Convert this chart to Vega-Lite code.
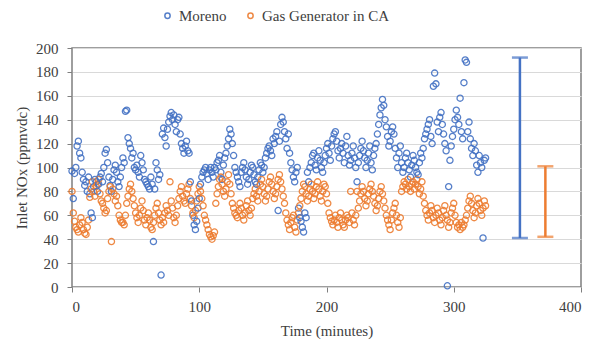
{
"$schema":"https://vega.github.io/schema/vega-lite/v6.json",
"width":509,"height":239,
"autosize":{"type":"none"},
"padding":{"left":72,"top":48,"right":12,"bottom":55},
"background":"white",
"config":{"view":{"stroke":"#7f7f7f","strokeWidth":1.5},"font":"Liberation Serif","axis":{"titleFontWeight":"normal","labelOverlap":false},
 "axisY":{"grid":true,"gridColor":"#d9d9d9","tickSize":5,"tickColor":"#7f7f7f","domain":false,"labelFontSize":15,"labelColor":"#404040","labelPadding":9,"titleFontSize":15,"titleColor":"#404040","titlePadding":6,"labelOverlap":false},
 "axisX":{"grid":false,"tickSize":5,"tickColor":"#7f7f7f","domain":false,"labelFontSize":15,"labelColor":"#404040","labelPadding":7,"titleFontSize":15,"titleColor":"#404040","titlePadding":9}},
"resolve":{"scale":{"color":"independent"}},
"datasets":{
"pts":[
{"t":0,"M":97,"G":80},{"t":1,"M":74,"G":62},{"t":2,"M":95,"G":55},{"t":3,"M":100,"G":50},{"t":4,"M":118,"G":48},{"t":5,"M":122,"G":46},{"t":6,"M":112,"G":52},{"t":7,"M":108,"G":58},{"t":8,"M":96,"G":54},{"t":9,"M":90,"G":48},
{"t":10,"M":85,"G":45},{"t":11,"M":88,"G":44},{"t":12,"M":80,"G":50},{"t":13,"M":92,"G":56},{"t":14,"M":78,"G":75},{"t":15,"M":62,"G":82},{"t":16,"M":58,"G":88},{"t":17,"M":84,"G":80},{"t":18,"M":90,"G":76},{"t":19,"M":88,"G":84},
{"t":20,"M":80,"G":86},{"t":21,"M":86,"G":90},{"t":22,"M":92,"G":78},{"t":23,"M":95,"G":72},{"t":24,"M":88,"G":70},{"t":25,"M":100,"G":66},{"t":26,"M":112,"G":62},{"t":27,"M":115,"G":64},{"t":28,"M":104,"G":74},{"t":29,"M":92,"G":80},
{"t":30,"M":85,"G":84},{"t":31,"M":80,"G":38},{"t":32,"M":90,"G":82},{"t":33,"M":98,"G":78},{"t":34,"M":102,"G":72},{"t":35,"M":96,"G":76},{"t":36,"M":88,"G":68},{"t":37,"M":84,"G":60},{"t":38,"M":92,"G":56},{"t":39,"M":100,"G":54},
{"t":40,"M":108,"G":54},{"t":41,"M":104,"G":52},{"t":42,"M":147,"G":60},{"t":43,"M":148,"G":70},{"t":44,"M":125,"G":76},{"t":45,"M":120,"G":82},{"t":46,"M":116,"G":86},{"t":47,"M":108,"G":80},{"t":48,"M":112,"G":74},{"t":49,"M":100,"G":68},
{"t":50,"M":98,"G":62},{"t":51,"M":102,"G":58},{"t":52,"M":96,"G":54},{"t":53,"M":92,"G":60},{"t":54,"M":110,"G":66},{"t":55,"M":104,"G":72},{"t":56,"M":98,"G":64},{"t":57,"M":90,"G":56},{"t":58,"M":88,"G":52},{"t":59,"M":86,"G":58},
{"t":60,"M":84,"G":62},{"t":61,"M":82,"G":56},{"t":62,"M":92,"G":50},{"t":63,"M":86,"G":48},{"t":64,"M":38,"G":54},{"t":65,"M":82,"G":60},{"t":66,"M":104,"G":66},{"t":67,"M":98,"G":70},{"t":68,"M":90,"G":62},{"t":69,"M":94,"G":56},
{"t":70,"M":10,"G":52},{"t":71,"M":128,"G":58},{"t":72,"M":133,"G":54},{"t":73,"M":125,"G":62},{"t":74,"M":118,"G":68},{"t":75,"M":132,"G":64},{"t":76,"M":138,"G":60},{"t":77,"M":143,"G":88},{"t":78,"M":146,"G":72},{"t":79,"M":140,"G":66},
{"t":80,"M":144,"G":58},{"t":81,"M":136,"G":54},{"t":82,"M":130,"G":60},{"t":83,"M":140,"G":68},{"t":84,"M":142,"G":74},{"t":85,"M":128,"G":80},{"t":86,"M":120,"G":84},{"t":87,"M":116,"G":76},{"t":88,"M":112,"G":72},{"t":89,"M":118,"G":70},
{"t":90,"M":122,"G":78},{"t":91,"M":114,"G":82},{"t":92,"M":112,"G":86},{"t":93,"M":88,"G":74},{"t":94,"M":72,"G":68},{"t":95,"M":60,"G":62},{"t":96,"M":52,"G":58},{"t":97,"M":48,"G":64},{"t":98,"M":55,"G":72},{"t":99,"M":66,"G":78},
{"t":100,"M":74,"G":84},{"t":101,"M":86,"G":80},{"t":102,"M":92,"G":74},{"t":103,"M":96,"G":68},{"t":104,"M":98,"G":60},{"t":105,"M":100,"G":56},{"t":106,"M":95,"G":52},{"t":107,"M":90,"G":48},{"t":108,"M":98,"G":44},{"t":109,"M":100,"G":42},
{"t":110,"M":96,"G":40},{"t":111,"M":92,"G":43},{"t":112,"M":100,"G":46},{"t":113,"M":98,"G":70},{"t":114,"M":104,"G":78},{"t":115,"M":106,"G":84},{"t":116,"M":110,"G":90},{"t":117,"M":96,"G":92},{"t":118,"M":90,"G":86},{"t":119,"M":102,"G":80},
{"t":120,"M":108,"G":76},{"t":121,"M":112,"G":82},{"t":122,"M":118,"G":88},{"t":123,"M":124,"G":94},{"t":124,"M":132,"G":86},{"t":125,"M":128,"G":78},{"t":126,"M":120,"G":70},{"t":127,"M":110,"G":66},{"t":128,"M":100,"G":62},{"t":129,"M":96,"G":60},
{"t":130,"M":92,"G":58},{"t":131,"M":88,"G":64},{"t":132,"M":84,"G":70},{"t":133,"M":96,"G":66},{"t":134,"M":100,"G":60},{"t":135,"M":104,"G":56},{"t":136,"M":98,"G":62},{"t":137,"M":92,"G":68},{"t":138,"M":86,"G":72},{"t":139,"M":90,"G":64},
{"t":140,"M":96,"G":60},{"t":141,"M":102,"G":66},{"t":142,"M":100,"G":74},{"t":143,"M":94,"G":78},{"t":144,"M":88,"G":82},{"t":145,"M":86,"G":76},{"t":146,"M":92,"G":72},{"t":147,"M":98,"G":80},{"t":148,"M":104,"G":86},{"t":149,"M":102,"G":90},
{"t":150,"M":96,"G":84},{"t":151,"M":100,"G":78},{"t":152,"M":108,"G":72},{"t":153,"M":112,"G":76},{"t":154,"M":116,"G":82},{"t":155,"M":118,"G":88},{"t":156,"M":114,"G":92},{"t":157,"M":110,"G":86},{"t":158,"M":124,"G":80},{"t":159,"M":120,"G":74},
{"t":160,"M":126,"G":78},{"t":161,"M":130,"G":84},{"t":162,"M":64,"G":90},{"t":163,"M":122,"G":94},{"t":164,"M":136,"G":88},{"t":165,"M":142,"G":82},{"t":166,"M":138,"G":76},{"t":167,"M":130,"G":70},{"t":168,"M":124,"G":62},{"t":169,"M":116,"G":56},
{"t":170,"M":128,"G":52},{"t":171,"M":112,"G":48},{"t":172,"M":104,"G":54},{"t":173,"M":98,"G":58},{"t":174,"M":92,"G":60},{"t":175,"M":88,"G":50},{"t":176,"M":96,"G":46},{"t":177,"M":100,"G":56},{"t":178,"M":66,"G":62},{"t":179,"M":58,"G":68},
{"t":180,"M":55,"G":74},{"t":181,"M":50,"G":80},{"t":182,"M":46,"G":86},{"t":183,"M":62,"G":84},{"t":184,"M":58,"G":78},{"t":185,"M":96,"G":72},{"t":186,"M":88,"G":76},{"t":187,"M":100,"G":82},{"t":188,"M":104,"G":86},{"t":189,"M":110,"G":80},
{"t":190,"M":112,"G":74},{"t":191,"M":102,"G":78},{"t":192,"M":98,"G":84},{"t":193,"M":108,"G":88},{"t":194,"M":114,"G":82},{"t":195,"M":106,"G":76},{"t":196,"M":100,"G":72},{"t":197,"M":96,"G":80},{"t":198,"M":104,"G":86},{"t":199,"M":110,"G":84},
{"t":200,"M":116,"G":78},{"t":201,"M":120,"G":70},{"t":202,"M":112,"G":62},{"t":203,"M":106,"G":58},{"t":204,"M":118,"G":55},{"t":205,"M":124,"G":52},{"t":206,"M":128,"G":56},{"t":207,"M":130,"G":60},{"t":208,"M":122,"G":54},{"t":209,"M":114,"G":50},
{"t":210,"M":108,"G":58},{"t":211,"M":116,"G":62},{"t":212,"M":120,"G":56},{"t":213,"M":112,"G":52},{"t":214,"M":104,"G":50},{"t":215,"M":118,"G":56},{"t":216,"M":126,"G":60},{"t":217,"M":110,"G":58},{"t":218,"M":102,"G":54},{"t":219,"M":106,"G":80},
{"t":220,"M":112,"G":62},{"t":221,"M":118,"G":56},{"t":222,"M":108,"G":52},{"t":223,"M":100,"G":60},{"t":224,"M":88,"G":80},{"t":225,"M":104,"G":66},{"t":226,"M":110,"G":72},{"t":227,"M":116,"G":78},{"t":228,"M":122,"G":84},{"t":229,"M":114,"G":80},
{"t":230,"M":108,"G":74},{"t":231,"M":100,"G":68},{"t":232,"M":106,"G":72},{"t":233,"M":112,"G":78},{"t":234,"M":118,"G":82},{"t":235,"M":104,"G":86},{"t":236,"M":98,"G":80},{"t":237,"M":110,"G":76},{"t":238,"M":116,"G":70},{"t":239,"M":120,"G":64},
{"t":240,"M":128,"G":68},{"t":241,"M":136,"G":74},{"t":242,"M":144,"G":80},{"t":243,"M":150,"G":84},{"t":244,"M":157,"G":78},{"t":245,"M":152,"G":72},{"t":246,"M":140,"G":66},{"t":247,"M":134,"G":60},{"t":248,"M":126,"G":56},{"t":249,"M":118,"G":52},
{"t":250,"M":122,"G":48},{"t":251,"M":130,"G":56},{"t":252,"M":134,"G":62},{"t":253,"M":128,"G":66},{"t":254,"M":116,"G":70},{"t":255,"M":108,"G":60},{"t":256,"M":100,"G":54},{"t":257,"M":112,"G":50},{"t":258,"M":118,"G":58},{"t":259,"M":104,"G":80},
{"t":260,"M":96,"G":84},{"t":261,"M":100,"G":88},{"t":262,"M":108,"G":86},{"t":263,"M":112,"G":82},{"t":264,"M":104,"G":90},{"t":265,"M":98,"G":84},{"t":266,"M":92,"G":80},{"t":267,"M":102,"G":86},{"t":268,"M":110,"G":88},{"t":269,"M":106,"G":82},
{"t":270,"M":100,"G":86},{"t":271,"M":96,"G":90},{"t":272,"M":94,"G":84},{"t":273,"M":104,"G":78},{"t":274,"M":112,"G":82},{"t":275,"M":108,"G":88},{"t":276,"M":116,"G":76},{"t":277,"M":124,"G":70},{"t":278,"M":128,"G":64},{"t":279,"M":132,"G":60},
{"t":280,"M":136,"G":56},{"t":281,"M":140,"G":62},{"t":282,"M":126,"G":68},{"t":283,"M":120,"G":64},{"t":284,"M":168,"G":58},{"t":285,"M":179,"G":54},{"t":286,"M":170,"G":60},{"t":287,"M":138,"G":66},{"t":288,"M":130,"G":62},{"t":289,"M":142,"G":56},
{"t":290,"M":146,"G":52},{"t":291,"M":136,"G":58},{"t":292,"M":128,"G":64},{"t":293,"M":120,"G":68},{"t":294,"M":114,"G":60},{"t":295,"M":1,"G":56},{"t":296,"M":84,"G":50},{"t":297,"M":106,"G":54},{"t":298,"M":118,"G":62},{"t":299,"M":126,"G":66},
{"t":300,"M":132,"G":70},{"t":301,"M":140,"G":60},{"t":302,"M":148,"G":54},{"t":303,"M":142,"G":50},{"t":304,"M":136,"G":52},{"t":305,"M":158,"G":48},{"t":306,"M":130,"G":54},{"t":307,"M":124,"G":50},{"t":308,"M":171,"G":52},{"t":309,"M":190,"G":56},
{"t":310,"M":188,"G":60},{"t":311,"M":130,"G":66},{"t":312,"M":138,"G":72},{"t":313,"M":124,"G":76},{"t":314,"M":116,"G":70},{"t":315,"M":110,"G":64},{"t":316,"M":120,"G":58},{"t":317,"M":114,"G":62},{"t":318,"M":102,"G":68},{"t":319,"M":96,"G":74},
{"t":320,"M":110,"G":70},{"t":321,"M":104,"G":64},{"t":322,"M":100,"G":60},{"t":323,"M":41,"G":66},{"t":324,"M":106,"G":72},{"t":325,"M":108,"G":68}
],
"bars":[{"s":"M","x":352,"lo":41,"hi":192},{"s":"G","x":372,"lo":42,"hi":101}]
},
"layer":[
{"data":{"name":"pts"},
 "transform":[{"fold":["M","G"],"as":["series","v"]}],
 "mark":{"type":"point","filled":false,"size":38,"strokeWidth":1.3,"opacity":0.9},
 "encoding":{
  "x":{"field":"t","type":"quantitative","scale":{"domain":[0,400]},"axis":{"values":[0,100,200,300,400],"title":"Time (minutes)"}},
  "y":{"field":"v","type":"quantitative","scale":{"domain":[0,200]},"axis":{"values":[0,20,40,60,80,100,120,140,160,180,200],"title":"Inlet NOx (ppmvdc)"}},
  "color":{"field":"series","type":"nominal","scale":{"domain":["M","G"],"range":["#4472C4","#ED7D31"]},
   "legend":{"orient":"none","legendX":88,"legendY":-40,"direction":"horizontal","title":null,"symbolType":"circle","symbolSize":28,"symbolStrokeWidth":1.5,"symbolFillColor":"transparent","labelFont":"Liberation Serif","labelFontSize":15,"labelColor":"#404040","columnPadding":16,"labelExpr":"datum.label == 'M' ? 'Moreno' : 'Gas Generator in CA'"}}
 }},
{"data":{"name":"bars"},
 "mark":{"type":"rule","strokeWidth":2.5},
 "encoding":{"x":{"field":"x","type":"quantitative","axis":{"values":[0,100,200,300,400],"title":"Time (minutes)"}},"y":{"field":"lo","type":"quantitative","axis":{"values":[0,20,40,60,80,100,120,140,160,180,200],"title":"Inlet NOx (ppmvdc)"}},"y2":{"field":"hi"},
  "color":{"field":"s","type":"nominal","scale":{"domain":["M","G"],"range":["#4472C4","#ED7D31"]},"legend":null}}},
{"data":{"name":"bars"},
 "mark":{"type":"tick","orient":"horizontal","size":16,"thickness":2.5},
 "encoding":{"x":{"field":"x","type":"quantitative","axis":{"values":[0,100,200,300,400],"title":"Time (minutes)"}},"y":{"field":"lo","type":"quantitative","axis":{"values":[0,20,40,60,80,100,120,140,160,180,200],"title":"Inlet NOx (ppmvdc)"}},
  "color":{"field":"s","type":"nominal","scale":{"domain":["M","G"],"range":["#4472C4","#ED7D31"]},"legend":null}}},
{"data":{"name":"bars"},
 "mark":{"type":"tick","orient":"horizontal","size":16,"thickness":2.5},
 "encoding":{"x":{"field":"x","type":"quantitative","axis":{"values":[0,100,200,300,400],"title":"Time (minutes)"}},"y":{"field":"hi","type":"quantitative","axis":{"values":[0,20,40,60,80,100,120,140,160,180,200],"title":"Inlet NOx (ppmvdc)"}},
  "color":{"field":"s","type":"nominal","scale":{"domain":["M","G"],"range":["#4472C4","#ED7D31"]},"legend":null}}}
]
}
